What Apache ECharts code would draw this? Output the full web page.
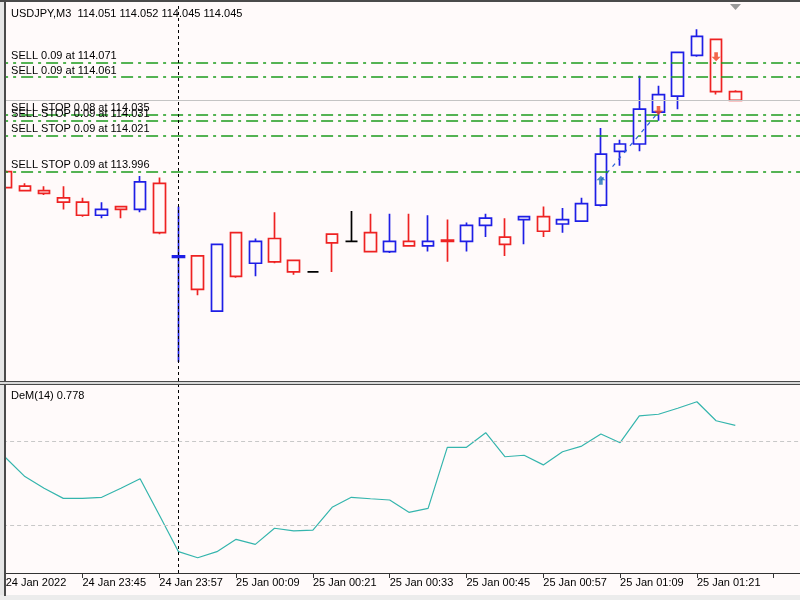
<!DOCTYPE html>
<html>
<head>
<meta charset="utf-8">
<script src="https://cdn.jsdelivr.net/npm/echarts@6/dist/echarts.min.js"></script>
<style>
  html, body { margin: 0; padding: 0; background: #fffafa; }
  #chart { width: 800px; height: 600px; }
</style>
</head>
<body>
<div id="chart"></div>
<script>
// M3 bars, USDJPY
var times = ['23:33', '23:36', '23:39', '23:42', '23:45', '23:48', '23:51', '23:54', '23:57', '00:00',
  '00:03', '00:06', '00:09', '00:12', '00:15', '00:18', '00:21', '00:24', '00:27', '00:30',
  '00:33', '00:36', '00:39', '00:42', '00:45', '00:48', '00:51', '00:54', '00:57', '01:00',
  '01:03', '01:06', '01:09', '01:12', '01:15', '01:18', '01:21', '01:24', '01:27', '01:30',
  '01:33', '01:36'];
var tickLabels = ['24 Jan 2022', '24 Jan 23:45', '24 Jan 23:57', '25 Jan 00:09', '25 Jan 00:21',
  '25 Jan 00:33', '25 Jan 00:45', '25 Jan 00:57', '25 Jan 01:09', '25 Jan 01:21'];

var opens = [113.996, 113.986, 113.983, 113.978, 113.975, 113.966, 113.972, 113.970, 113.988, 113.937,
  113.938, 113.900, 113.954, 113.933, 113.950, 113.935, 113.927, 113.953, 113.948, 113.954,
  113.941, 113.948, 113.945, 113.949, 113.948, 113.959, 113.951, 113.963, 113.965, 113.960,
  113.962, 113.973, 114.010, 114.015, 114.037, 114.048, 114.076, 114.087, 114.051];
var highs = [113.997, 113.988, 113.986, 113.986, 113.978, 113.975, 113.972, 113.993, 113.992, 113.972,
  113.938, 113.946, 113.954, 113.950, 113.968, 113.935, 113.927, 113.953, 113.969, 113.967,
  113.967, 113.967, 113.966, 113.963, 113.961, 113.967, 113.964, 113.965, 113.972, 113.971,
  113.978, 114.026, 114.018, 114.062, 114.055, 114.078, 114.094, 114.087, 114.052];
var lows = [113.985, 113.983, 113.980, 113.970, 113.965, 113.964, 113.964, 113.968, 113.953, 113.865,
  113.911, 113.900, 113.923, 113.924, 113.933, 113.925, 113.927, 113.927, 113.948, 113.941,
  113.940, 113.945, 113.941, 113.934, 113.941, 113.951, 113.938, 113.946, 113.951, 113.954,
  113.962, 113.972, 114.000, 114.010, 114.031, 114.039, 114.075, 114.049, 114.045];
var closes = [113.985, 113.983, 113.981, 113.975, 113.966, 113.970, 113.970, 113.989, 113.954, 113.938,
  113.915, 113.946, 113.924, 113.948, 113.934, 113.927, 113.927, 113.947, 113.948, 113.941,
  113.948, 113.945, 113.948, 113.948, 113.959, 113.964, 113.946, 113.965, 113.955, 113.963,
  113.974, 114.008, 114.015, 114.039, 114.049, 114.078, 114.089, 114.051, 114.045];

// DeMarker(14)
var demValues = [0.623, 0.533, 0.477, 0.429, 0.429, 0.434, 0.477, 0.523, 0.349, 0.174,
  0.145, 0.174, 0.233, 0.209, 0.286, 0.273, 0.277, 0.386, 0.434, 0.427,
  0.421, 0.362, 0.381, 0.673, 0.673, 0.743, 0.628, 0.635, 0.589, 0.652,
  0.679, 0.737, 0.695, 0.823, 0.831, 0.860, 0.891, 0.800, 0.778];
var demLevels = [0.3, 0.7];

// pending / open orders
var orderPrices = [114.071, 114.061, 114.035, 114.031, 114.021, 113.996];
var orderLabels = ['SELL 0.09 at 114.071', 'SELL 0.09 at 114.061', 'SELL STOP 0.08 at 114.035',
  'SELL STOP 0.09 at 114.031', 'SELL STOP 0.09 at 114.021', 'SELL STOP 0.09 at 113.996'];
var bidPrice = 114.045;

// trade arrows
var buyArrows = [[31, 113.990]];
var sellArrows = [[34, 114.038], [37, 114.075]];
var tradeLine = [[31, 113.990], [34, 114.037]];

var separatorTime = '00:00';

var FONT = '"Liberation Sans", Arial, sans-serif';
var BG = '#fffafa';

var chart = echarts.init(document.getElementById('chart'), null, { renderer: 'canvas' });

var candles = opens.map(function (o, i) {
  return [o, closes[i], lows[i], highs[i]];
});

var orderLines = orderPrices.map(function (p, i) {
  return {
    yAxis: p,
    lineStyle: { color: '#1c9c1c', type: [12, 5, 3, 5], width: 1.5 },
    label: {
      show: true,
      position: 'insideStartTop',
      formatter: orderLabels[i],
      color: '#000',
      fontSize: 11,
      fontFamily: FONT,
      distance: [15, 1]
    }
  };
});

var option = {
  backgroundColor: BG,
  animation: false,
  grid: [
    { left: -3.9, right: -2.5, top: 3, height: 378, outerBoundsMode: 'none' },
    { left: -3.9, right: -2.5, top: 385, height: 188, outerBoundsMode: 'none' }
  ],
  xAxis: [
    {
      type: 'category', gridIndex: 0, data: times, boundaryGap: true,
      axisLine: { show: false }, axisTick: { show: false }, axisLabel: { show: false },
      splitLine: { show: false }
    },
    {
      type: 'category', gridIndex: 1, data: times, boundaryGap: true,
      axisLine: { show: true, lineStyle: { color: '#333', width: 1 } },
      axisTick: { show: true, interval: 3, alignWithLabel: true, length: 5, lineStyle: { color: '#333' } },
      axisLabel: {
        interval: 3,
        align: 'left',
        margin: 4,
        color: '#000',
        fontSize: 11,
        fontFamily: FONT,
        formatter: function (val, idx) {
          return tickLabels[idx / 4] || '';
        }
      },
      splitLine: { show: false }
    }
  ],
  yAxis: [
    { type: 'value', gridIndex: 0, min: 113.852, max: 114.112, show: false },
    { type: 'value', gridIndex: 1, min: 0.072, max: 0.971, show: false }
  ],
  series: [
    {
      type: 'candlestick',
      xAxisIndex: 0, yAxisIndex: 0,
      data: candles,
      barWidth: 12,
      itemStyle: {
        color: BG, color0: BG,
        borderColor: '#1e1ee6', borderColor0: '#ee2222', borderColorDoji: '#000',
        borderWidth: 1.7
      },
      markLine: {
        silent: true, symbol: 'none', animation: false, precision: 3,
        data: orderLines.concat([
          { yAxis: bidPrice, lineStyle: { color: '#c4c4c4', type: 'solid', width: 1 }, label: { show: false } },
          { xAxis: separatorTime, lineStyle: { color: '#000', type: [3, 3], width: 1 }, label: { show: false } }
        ])
      }
    },
    {
      type: 'line',
      xAxisIndex: 0, yAxisIndex: 0,
      data: tradeLine,
      symbol: 'none',
      lineStyle: { color: '#2a5fd8', type: [4, 5], width: 1.2 },
      z: 3
    },
    {
      type: 'scatter',
      xAxisIndex: 0, yAxisIndex: 0,
      data: buyArrows,
      symbol: 'path://M5,0 L10,5 L7,5 L7,10 L3,10 L3,5 L0,5 Z',
      symbolSize: [9, 9],
      itemStyle: { color: '#1d6fb8' },
      z: 5
    },
    {
      type: 'scatter',
      xAxisIndex: 0, yAxisIndex: 0,
      data: sellArrows,
      symbol: 'path://M3,0 L7,0 L7,5 L10,5 L5,10 L0,5 L3,5 Z',
      symbolSize: [9, 9],
      itemStyle: { color: '#f0401e' },
      z: 5
    },
    {
      type: 'line',
      xAxisIndex: 1, yAxisIndex: 1,
      data: demValues,
      symbol: 'none',
      lineStyle: { color: '#35b5ad', width: 1.2 },
      markLine: {
        silent: true, symbol: 'none', animation: false,
        label: { show: false },
        data: demLevels.map(function (v) {
          return { yAxis: v, lineStyle: { color: '#c8c8c8', type: [4, 3], width: 1 } };
        }).concat([
          { xAxis: separatorTime, lineStyle: { color: '#000', type: [3, 3], width: 1 } }
        ])
      }
    }
  ],
  graphic: [
    // window frame
    { type: 'rect', shape: { x: 0, y: 0, width: 4, height: 600 }, style: { fill: '#e6e6e6' }, z: 100 },
    { type: 'rect', shape: { x: 4, y: 0, width: 2, height: 596 }, style: { fill: '#4a4a4a' }, z: 101 },
    { type: 'rect', shape: { x: 0, y: 0, width: 800, height: 2 }, style: { fill: '#4a4a4a' }, z: 101 },
    { type: 'rect', shape: { x: 0, y: 381, width: 800, height: 1 }, style: { fill: '#4a4a4a' }, z: 101 },
    { type: 'rect', shape: { x: 0, y: 382, width: 800, height: 2 }, style: { fill: '#d8d8d8' }, z: 101 },
    { type: 'rect', shape: { x: 0, y: 384, width: 800, height: 1 }, style: { fill: '#4a4a4a' }, z: 101 },
    { type: 'rect', shape: { x: 0, y: 595, width: 800, height: 5 }, style: { fill: '#ececec' }, z: 100 },
    // shift marker
    { type: 'polygon', shape: { points: [[730, 4], [741, 4], [735.5, 10]] }, style: { fill: '#9a9a9a' }, z: 102 },
    {
      type: 'text', z: 102,
      style: {
        text: 'USDJPY,M3  114.051 114.052 114.045 114.045',
        x: 11, y: 14, verticalAlign: 'middle',
        font: '11px ' + FONT, fill: '#000'
      }
    },
    {
      type: 'text', z: 102,
      style: {
        text: 'DeM(14) 0.778',
        x: 11, y: 396, verticalAlign: 'middle',
        font: '11px ' + FONT, fill: '#000'
      }
    }
  ]
};

chart.setOption(option);
</script>
</body>
</html>
